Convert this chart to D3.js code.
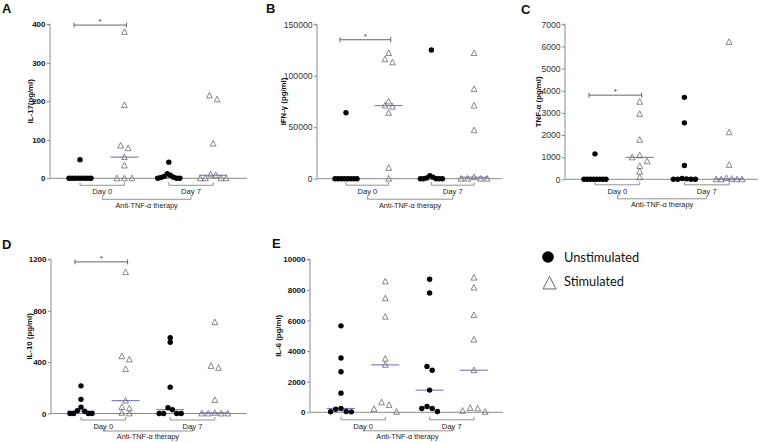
<!DOCTYPE html>
<html><head><meta charset="utf-8">
<script src="https://cdn.jsdelivr.net/npm/d3@7"></script>
<style>body{margin:0;background:#fff}</style>
</head><body><svg id="c" width="760" height="442"></svg>
<script>
// ---------- data ----------
const groupNames = ["Unstimulated Day 0","Stimulated Day 0","Unstimulated Day 7","Stimulated Day 7"];
const groupKinds = ["unstim","stim","unstim","stim"];
const dayLabels = ["Day 0","Day 7"];
const therapyLabel = "Anti-TNF-α therapy";
const legendLabels = ["Unstimulated","Stimulated"];
const panelLetters = ["A","B","C","D","E"];
const yTitles = ["IL-17(pg/ml)","IFN-γ (pg/ml)","TNF-α (pg/ml)","IL-10 (pg/ml)","IL-6 (pg/ml)"];

const il17 = [
  [48,0,0,0,0,0,0,0,0],
  [380,190,85,78,55,33,0,0,0],
  [42,12,8,5,3,2,0,0,0],
  [215,205,90,10,8,0,0,0,0]
];
const ifng = [
  [64000,0,0,0,0,0,0,0,0],
  [122000,116000,113000,75000,71000,70000,64000,10500,0],
  [125000,3000,1500,800,0,0,0,0,0],
  [122000,87000,71000,47000,1500,0,0,0,0]
];
const tnfa = [
  [1150,0,0,0,0,0,0,0,0],
  [3500,2950,1780,1080,990,810,600,350,90],
  [3700,2550,620,40,20,0,0,0,0],
  [6200,2120,650,50,20,0,0,0,0]
];
const il10 = [
  [215,110,50,22,18,0,0,0,0],
  [1100,445,420,345,100,50,40,5,0],
  [590,555,205,45,30,0,0,0,0],
  [710,370,355,105,5,0,0,0,0]
];
const il6 = [
  [5650,3550,2650,1250,250,200,50,40,30],
  [8550,7450,6250,3500,3100,650,480,220,30],
  [8700,7800,3000,2750,1450,380,250,250,50],
  [8800,8150,6350,4750,2750,280,250,100,30]
];
const il17Ticks = [0,100,200,300,400];
const ifngTicks = [0,50000,100000,150000];
const tnfaTicks = [0,1000,2000,3000,4000,5000,6000,7000];
const il10Ticks = [0,400,800,1200];
const il6Ticks = [0,2000,4000,6000,8000,10000];
const sigLevels = [398,135000,3800,1180,null];

const panelData = [il17, ifng, tnfa, il10, il6];
const panelTicks = [il17Ticks, ifngTicks, tnfaTicks, il10Ticks, il6Ticks];

// ---------- layout (pixels) ----------
const layout = [
  {ax:50, end:247, top:24.3, bot:178.3, g0:80, step:44.4, tx:30.5, letter:[2,13], bold:true, d1:7, d2:21},
  {ax:317, end:502, top:24.3, bot:178.7, g0:346, step:42.7, tx:284, letter:[266,13], bold:false, d1:6.5, d2:20.5},
  {ax:565, end:758, top:24.3, bot:179.3, g0:595, step:44.7, tx:538.5, letter:[521,14], bold:false, d1:5.5, d2:19.5},
  {ax:51, end:247, top:259.3, bot:413.5, g0:81, step:44.6, tx:29.5, letter:[2,249], bold:true, d1:6.5, d2:17.5},
  {ax:310, end:503, top:259.3, bot:412.3, g0:341, step:44.3, tx:278.5, letter:[272,248], bold:true, d1:7.5, d2:18.5}
];

const svg = d3.select("#c");
const AX = "#8a8a8a", MED = "#7474c8";
const FONT = "'Liberation Sans', Arial, sans-serif";
const tri = s => `M0,${-s*0.55}L${s/2},${s*0.42}L${-s/2},${s*0.42}Z`;

function dodge(vals, y, cx, maxSp, width){
  const pts = vals.map(v=>({v, py:y(v)})).sort((a,b)=>b.py-a.py);
  const clusters=[]; let cur=[];
  pts.forEach(p=>{
    if(cur.length && Math.abs(p.py-cur[cur.length-1].py)>4){clusters.push(cur);cur=[];}
    cur.push(p);
  });
  if(cur.length) clusters.push(cur);
  clusters.forEach(c=>{
    const n=c.length, s = n>1 ? Math.min(maxSp, width/(n-1)) : 0;
    const offs = d3.range(n).map(i=>(i-(n-1)/2)*s).sort((a,b)=>Math.abs(a)-Math.abs(b));
    const byVal = c.slice().sort((a,b)=>b.v-a.v);
    byVal.forEach((p,i)=>p.px = cx+offs[i]);
  });
  return pts;
}

panelData.forEach((data, pi)=>{
  const L = layout[pi];
  const ticks = panelTicks[pi];
  const y = d3.scaleLinear().domain([0, d3.max(ticks)]).range([L.bot, L.top]);
  const x = d3.scalePoint().domain(groupNames).range([L.g0, L.g0+3*L.step]);
  const g = svg.append("g");

  g.append("text").attr("x",L.letter[0]).attr("y",L.letter[1]).text(panelLetters[pi])
    .attr("font-family",FONT).attr("font-weight","bold")
    .attr("font-size",13).attr("fill","#111");

  const yAxis = d3.axisLeft(y).tickValues(ticks).tickSize(3).tickPadding(1.5).tickFormat(d3.format("d"));
  const ya = g.append("g").attr("transform",`translate(${L.ax},0)`).call(yAxis);
  ya.select(".domain").attr("stroke",AX).attr("d",`M-3,${L.top}H0V${L.bot}`);
  ya.selectAll(".tick line").attr("stroke",AX);
  ya.selectAll(".tick text")
    .attr("font-family",FONT)
    .attr("font-size", L.bold ? 8 : 8.6)
    .attr("font-weight", L.bold ? "bold" : "normal")
    .attr("fill", L.bold ? "#111" : "#333");

  g.append("line").attr("x1",L.ax).attr("x2",L.end).attr("y1",L.bot).attr("y2",L.bot).attr("stroke",AX).attr("stroke-width",1);

  g.append("text").attr("transform",`translate(${L.tx},${(L.top+L.bot)/2}) rotate(-90)`)
    .attr("text-anchor","middle").attr("dominant-baseline","middle")
    .attr("font-family",FONT).attr("font-weight","bold")
    .attr("font-size",7.8).attr("fill","#111").text(yTitles[pi]);

  const bk = g.append("g").attr("stroke","#777").attr("fill","none").attr("stroke-width",0.8);
  const b1 = L.bot+L.d1, b2 = L.bot+L.d2;
  [[0,1],[2,3]].forEach((pair,di)=>{
    const xa = x(groupNames[pair[0]]), xb = x(groupNames[pair[1]]);
    bk.append("path").attr("d",`M${xa},${b1-3}V${b1}H${xb}V${b1-3}`);
    g.append("text").attr("x",(xa+xb)/2).attr("y",b1+8.8).attr("text-anchor","middle")
      .attr("font-family",FONT).attr("font-size",7.6).attr("fill","#222")
      .text(dayLabels[di]);
  });
  const m0 = (x(groupNames[0])+x(groupNames[1]))/2, m1 = (x(groupNames[2])+x(groupNames[3]))/2;
  bk.append("path").attr("d",`M${m0},${b2-3}V${b2}H${m1}V${b2-3}`);
  g.append("text").attr("x",(m0+m1)/2).attr("y",Math.min(b2+8.3, 438.6)).attr("text-anchor","middle")
    .attr("font-family",FONT).attr("font-size",7.3).attr("fill","#222")
    .text(therapyLabel);

  if(sigLevels[pi]!==null){
    const sy = y(sigLevels[pi]), xa = x(groupNames[0]) - 6, xb = x(groupNames[1]) + 2;
    g.append("path").attr("d",`M${xa},${sy-2.5}V${sy+2.5}M${xa},${sy}H${xb}M${xb},${sy-2.5}V${sy+2.5}`)
      .attr("stroke","#555").attr("stroke-width",0.9).attr("fill","none");
    g.append("text").attr("x",(xa+xb)/2).attr("y",sy-1).attr("text-anchor","middle")
      .attr("font-family",FONT).attr("font-size",7).attr("fill","#222").text("*");
  }

  data.forEach((vals, gi)=>{
    const cx = x(groupNames[gi]);
    const kind = groupKinds[gi];
    const med = d3.median(vals);
    g.append("line").attr("x1",cx-14).attr("x2",cx+14).attr("y1",y(med)).attr("y2",y(med))
      .attr("stroke",MED).attr("stroke-width",1.1);
    const pts = dodge(vals, y, cx, kind==="stim"?7.5:5.2, kind==="stim"?26:22);
    if(kind==="unstim"){
      g.selectAll(null).data(pts).enter().append("circle")
        .attr("cx",d=>d.px).attr("cy",d=>d.py).attr("r",2.7).attr("fill","#000");
    } else {
      g.selectAll(null).data(pts).enter().append("path")
        .attr("d",tri(5.8)).attr("transform",d=>`translate(${d.px},${d.py})`)
        .attr("fill","none").attr("stroke","#6a6a6a").attr("stroke-width",0.8);
    }
  });
});

const lg = svg.append("g");
lg.append("circle").attr("cx",548).attr("cy",257).attr("r",5.8).attr("fill","#000");
lg.append("path").attr("d",tri(13)).attr("transform","translate(549.5,283.5)")
  .attr("fill","#fff").attr("stroke","#555").attr("stroke-width",0.9);
legendLabels.forEach((t,i)=>{
  lg.append("text").attr("x",564).attr("y",[261.5,285.5][i]).text(t)
    .attr("font-family","Lato, 'Open Sans', sans-serif").attr("font-size",12.8).attr("fill","#111");
});
</script></body></html>
